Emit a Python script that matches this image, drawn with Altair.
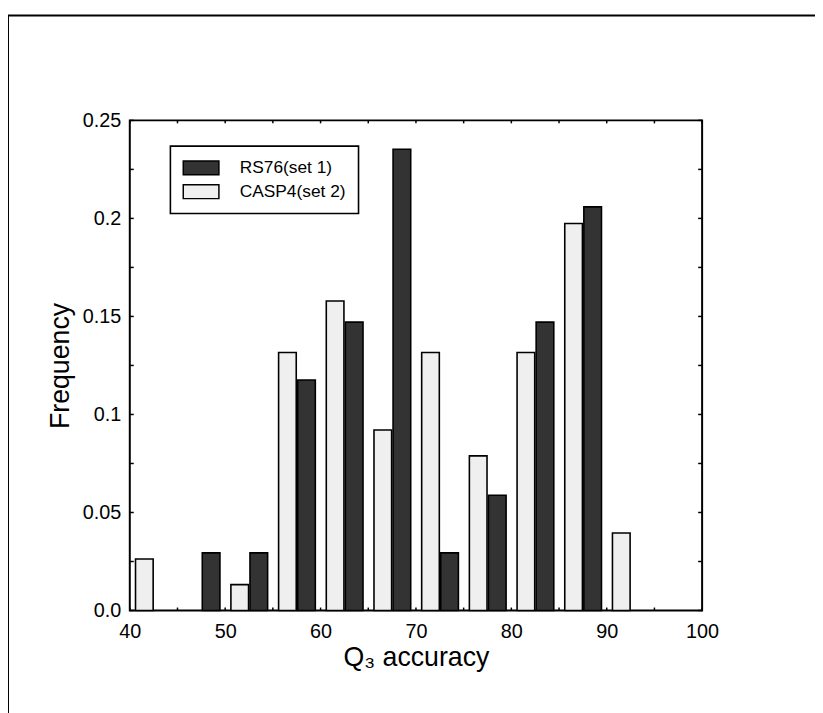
import altair as alt
import pandas as pd

# Histogram data (frequency per 5-unit Q3 accuracy bin)
bin_starts = [40, 45, 50, 55, 60, 65, 70, 75, 80, 85, 90]
rs76 = [0.0, 0.0294, 0.0294, 0.1176, 0.1471, 0.2353, 0.0294, 0.0588, 0.1471, 0.2059, 0.0]
casp4 = [0.0263, 0.0, 0.0132, 0.1316, 0.1579, 0.0921, 0.1316, 0.0789, 0.1316, 0.1974, 0.0395]
series_names = ["RS76(set 1)", "CASP4(set 2)"]
series_colors = ["#333333", "#efefef"]

y_tick_labels = [0.0, 0.05, 0.1, 0.15, 0.2, 0.25]
x_tick_labels = [40, 50, 60, 70, 80, 90, 100]
y_minor = [0.0, 0.025, 0.05, 0.075, 0.1, 0.125, 0.15, 0.175, 0.2, 0.225, 0.25]
x_minor = [40, 45, 50, 55, 60, 65, 70, 75, 80, 85, 90, 95, 100]

FONT = "Liberation Sans"
W, H = 578, 495

rows = []
for s, r, c in zip(bin_starts, rs76, casp4):
    rows.append({"series": series_names[1], "start": s, "lo": s + 0.6, "hi": s + 2.45, "freq": c})
    rows.append({"series": series_names[0], "start": s, "lo": s + 2.6, "hi": s + 4.45, "freq": r})
df = pd.DataFrame(rows)

xscale = alt.Scale(domain=[40, 100], nice=False, zero=False)
yscale = alt.Scale(domain=[0, 0.25], nice=False)

xaxis = alt.Axis(values=x_tick_labels, title="Q₃ accuracy", ticks=False, domain=False,
                 grid=False, labelFontSize=20, labelPadding=11, titleFontSize=27,
                 titleFontWeight="normal", titlePadding=4, labelColor="black",
                 titleColor="black", labelFont=FONT, titleFont=FONT, labelFlush=False)
yaxis = alt.Axis(values=y_tick_labels, title="Frequency", ticks=False, domain=False,
                 grid=False, labelFontSize=20, labelPadding=9, titleFontSize=27,
                 titleFontWeight="normal", titlePadding=8, labelColor="black",
                 titleColor="black", labelFont=FONT, titleFont=FONT, labelFlush=False,
                 labelExpr="datum.value == 0 ? '0.0' : format(datum.value, '~g')")

frame = alt.Chart(pd.DataFrame({"a": [0]})).mark_rect(
    fillOpacity=0, stroke="black", strokeWidth=2
).encode(
    x=alt.value(-123), x2=alt.value(730), y=alt.value(-106), y2=alt.value(620)
)

legend_box = alt.Chart(pd.DataFrame({"a": [0]})).mark_rect(
    fill="white", stroke="black", strokeWidth=1.6
).encode(
    x=alt.value(41), x2=alt.value(231), y=alt.value(26), y2=alt.value(94)
)

bars = alt.Chart(df).transform_filter("datum.freq > 0").mark_bar(
    stroke="black", strokeWidth=1.6
).encode(
    x=alt.X("lo:Q", scale=xscale, axis=xaxis),
    x2="hi:Q",
    y=alt.Y("freq:Q", scale=yscale, axis=yaxis),
    y2=alt.datum(0),
    color=alt.Color("series:N",
                    scale=alt.Scale(domain=series_names, range=series_colors),
                    legend=alt.Legend(title=None, orient="none", legendX=41, legendY=26,
                                      padding=12,
                                      labelFontSize=17.5, labelFont=FONT, labelColor="black",
                                      symbolType="M-1,-0.78H3V0.78H-1Z", symbolSize=324,
                                      symbolStrokeColor="black", symbolStrokeWidth=1.5,
                                      symbolOpacity=1, labelOffset=38, rowPadding=2)),
)

ydf = pd.DataFrame({"v": y_minor})
xdf = pd.DataFrame({"v": x_minor})

ytl = alt.Chart(ydf).mark_rule(color="black", strokeWidth=1.5).encode(
    y=alt.Y("v:Q", scale=yscale, axis=yaxis), x=alt.value(0), x2=alt.value(4))
ytr = alt.Chart(ydf).mark_rule(color="black", strokeWidth=1.5).encode(
    y=alt.Y("v:Q", scale=yscale, axis=yaxis), x=alt.value(W), x2=alt.value(W - 4))
xtb = alt.Chart(xdf).mark_rule(color="black", strokeWidth=1.5).encode(
    x=alt.X("v:Q", scale=xscale, axis=xaxis), y=alt.value(H), y2=alt.value(H - 3))
xtt = alt.Chart(xdf).mark_rule(color="black", strokeWidth=1.5).encode(
    x=alt.X("v:Q", scale=xscale, axis=xaxis), y=alt.value(0), y2=alt.value(3))

chart = alt.layer(frame, legend_box, bars, ytl, ytr, xtb, xtt).properties(
    width=W, height=H,
    autosize=alt.AutoSizeParams(type="none"),
    padding={"left": 123, "top": 110, "right": 114, "bottom": 100},
).configure(
    font=FONT, background="white",
    view=alt.ViewConfig(stroke="black", strokeWidth=2),
)

chart.save("out.html", embed_options={"renderer": "svg", "actions": False})
